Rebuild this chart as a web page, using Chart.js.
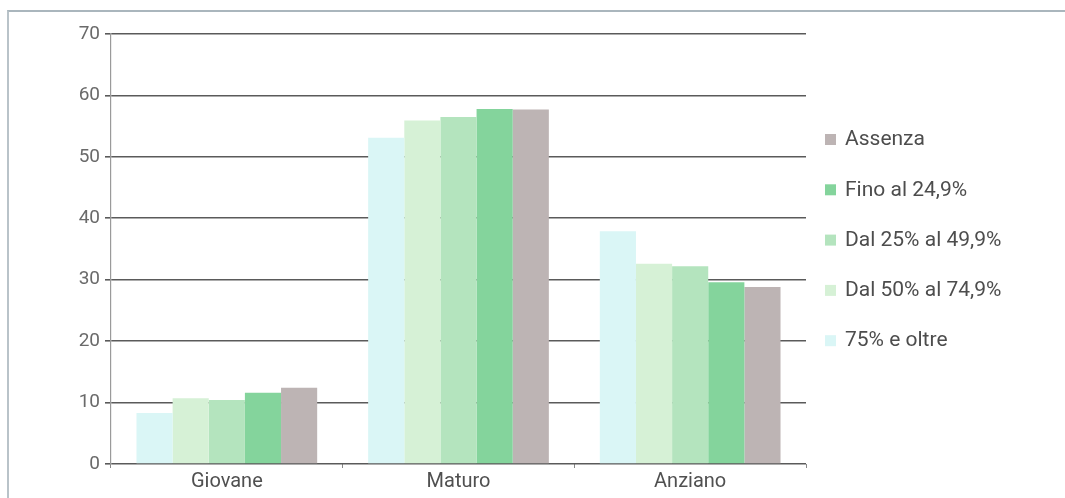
<!DOCTYPE html>
<html>
<head>
<meta charset="utf-8">
<script src="https://cdn.jsdelivr.net/npm/chart.js@4/dist/chart.umd.min.js"></script>
<style>
  html, body { margin: 0; padding: 0; background: #ffffff; }
  #wrap { position: relative; width: 1065px; height: 498px; overflow: hidden; background: #fff; }
  #frame { position: absolute; left: 7px; top: 10px; right: -4px; bottom: -4px;
           border-left: 2px solid #b9c3c9; border-top: 2px solid #aab6bd; }
  canvas { position: absolute; left: 0; top: 0; }
</style>
</head>
<body>
<div id="wrap">
  <div id="frame"></div>
  <canvas id="c" width="1065" height="498"></canvas>
</div>
<script>
// Age groups on the x axis
const categories = ['Giovane', 'Maturo', 'Anziano'];

// Series, left to right inside each group
const seriesNames = ['75% e oltre', 'Dal 50% al 74,9%', 'Dal 25% al 49,9%', 'Fino al 24,9%', 'Assenza'];
const seriesColors = ['#daf6f6', '#d6f1d6', '#b4e4be', '#84d49c', '#bdb4b4'];

const valuesOltre75 = [8.3, 53.1, 37.9];
const values50to74  = [10.7, 55.9, 32.6];
const values25to49  = [10.4, 56.5, 32.2];
const valuesFino24  = [11.6, 57.8, 29.6];
const valuesAssenza = [12.4, 57.7, 28.8];

const seriesValues = [valuesOltre75, values50to74, values25to49, valuesFino24, valuesAssenza];

// Value axis
const yMin = 0, yMax = 70, yStep = 10;

const FONT = 'Roboto, "DejaVu Sans", sans-serif';

// Legend drawn to the right of the plot, last series on top
const sideLegend = {
  id: 'sideLegend',
  afterDraw(chart) {
    const ctx = chart.ctx;
    const area = chart.chartArea;
    const n = chart.data.datasets.length;
    const x0 = area.right + 19;
    const yTop = 140, gap = 50.3;
    ctx.save();
    ctx.font = '21px ' + FONT;
    ctx.textBaseline = 'middle';
    ctx.textAlign = 'left';
    for (let i = 0; i < n; i++) {
      const ds = chart.data.datasets[n - 1 - i];
      const y = yTop + i * gap;
      ctx.fillStyle = ds.backgroundColor;
      ctx.fillRect(x0, y - 6, 11, 11);
      ctx.fillStyle = '#4d4d4d';
      ctx.fillText(ds.label, x0 + 20, y);
    }
    ctx.restore();
  }
};

new Chart(document.getElementById('c'), {
  type: 'bar',
  data: {
    labels: categories,
    datasets: seriesNames.map((name, i) => ({
      label: name,
      data: seriesValues[i],
      backgroundColor: seriesColors[i],
      borderWidth: 0,
      barPercentage: 1.0,
      categoryPercentage: 0.78
    }))
  },
  options: {
    responsive: false,
    animation: false,
    layout: { padding: { left: 0, right: 259, top: 34, bottom: 0 } },
    plugins: {
      legend: { display: false },
      tooltip: { enabled: false }
    },
    scales: {
      x: {
        grid: { display: true, drawOnChartArea: false, drawTicks: true, tickLength: 4, color: '#888', offset: true },
        border: { display: false },
        ticks: { color: '#505050', font: { family: FONT, size: 20 }, padding: 2 },
        afterFit(scale) { scale.height = 34; }
      },
      y: {
        min: yMin, max: yMax,
        ticks: { stepSize: yStep, color: '#6a6a6a', font: { family: FONT, size: 19 }, padding: 5 },
        grid: { color: '#5a5a5a', lineWidth: 1.6, drawTicks: true, tickLength: 6 },
        border: { display: true, color: '#9a9a9a', width: 1.2 },
        afterFit(scale) { scale.width = 111; }
      }
    }
  },
  plugins: [sideLegend]
});
</script>
</body>
</html>
